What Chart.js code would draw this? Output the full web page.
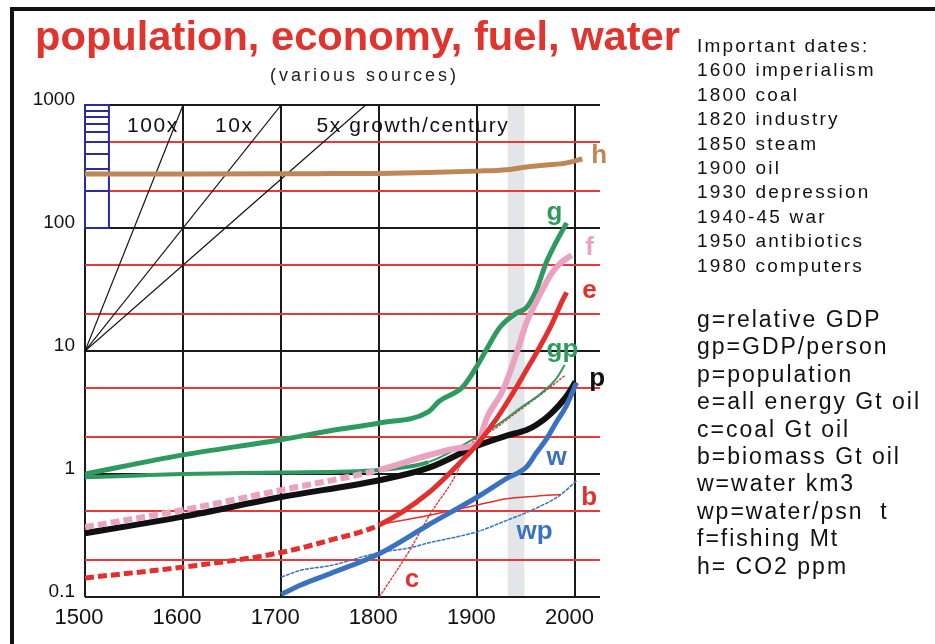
<!DOCTYPE html>
<html><head><meta charset="utf-8">
<script src="https://cdn.jsdelivr.net/npm/chart.js@4.4.1/dist/chart.umd.min.js"></script>
<style>
html,body{margin:0;padding:0;background:#fff;width:935px;height:644px;overflow:hidden;position:relative;font-family:"Liberation Sans",Arial,sans-serif;}
#c{position:absolute;left:0;top:0;}
.frameL{position:absolute;left:10px;top:7px;width:4px;height:637px;background:#111;}
.frameT{position:absolute;left:10px;top:7px;width:925px;height:4px;background:#111;}
#title{position:absolute;left:35px;top:14px;font:bold 40px "Liberation Sans Narrow","Liberation Sans",Arial,sans-serif;color:#e0352e;white-space:nowrap;transform-origin:0 0;}
#sub{position:absolute;left:270px;top:65px;font:18px "Liberation Sans",Arial,sans-serif;letter-spacing:3px;color:#222;white-space:nowrap;}
#dates{position:absolute;left:697px;top:34px;font:19px "Liberation Sans",Arial,sans-serif;letter-spacing:2.2px;line-height:24.4px;color:#111;white-space:nowrap;}
#keys{position:absolute;left:697px;top:306px;font:23px "Liberation Sans",Arial,sans-serif;letter-spacing:2px;line-height:27.4px;color:#111;white-space:nowrap;}
</style></head>
<body>
<canvas id="c" width="935" height="644"></canvas>
<div class="frameL"></div><div class="frameT"></div>
<div id="title">population, economy, fuel, water</div>
<div id="sub">(various sources)</div>
<div id="dates">Important dates:<br>1600 imperialism<br>1800 coal<br>1820 industry<br>1850 steam<br>1900 oil<br>1930 depression<br>1940-45 war<br>1950 antibiotics<br>1980 computers</div>
<div id="keys">g=relative GDP<br>gp=GDP/person<br>p=population<br>e=all energy Gt oil<br>c=coal Gt oil<br>b=biomass Gt oil<br>w=water km3<br>wp=water/psn&nbsp; t<br>f=fishing Mt<br>h= CO2 ppm</div>
<script>
// ---- axis ticks ----
const xTicks = [1500,1600,1700,1800,1900,2000];
const yTicks = [0.1,0.2,0.5,1,2,5,10,20,50,100,200,500,1000];

// ---- series (year, value) ----
const hYears   = [1500,1600,1700,1750,1800,1850,1900,1930,1950,1970,1990,2007];
const hValues  = [275,275,276,277,278,282,290,298,313,325,337,364];

const gYears   = [1500,1600,1700,1750,1800,1850,1861,1885,1899,1909,1923,1940,1950,1960,1970,1980,1991];
const gValues  = [1.0,1.43,1.9,2.25,2.6,3.2,3.9,5.1,7.4,10.2,15.6,20.4,22.5,31,52,76,110];

const gpYears  = [1500,1550,1600,1700,1800,1850,1895,1920,1943,1966,1980,1989];
const gpValues = [0.94,0.97,1.0,1.03,1.08,1.25,1.9,2.5,3.4,4.6,5.9,7.7];

const pYears   = [1500,1600,1700,1800,1850,1900,1930,1950,1960,1975,1990,2000];
const pValues  = [0.33,0.45,0.65,0.89,1.12,1.7,2.05,2.28,2.5,3.1,4.2,5.6];

const fYears   = [1500,1600,1700,1800,1850,1880,1900,1910,1926,1940,1950,1961,1975,1985,1996];
const fValues  = [0.37,0.51,0.74,1.08,1.42,1.62,1.78,2.9,4.8,9.6,17,26,42,52,60];

const eYears   = [1500,1600,1700,1750,1800,1850,1885,1900,1920,1938,1950,1960,1975,1987,1991];
const eValues  = [0.143,0.175,0.23,0.29,0.385,0.70,1.3,1.75,2.85,4.8,7.0,9.6,16,26,30];

const bYears   = [1800,1850,1900,1930,1960,1985];
const bValues  = [0.39,0.46,0.56,0.63,0.66,0.68];

const cYears   = [1800,1831,1851,1879,1889,1920,1943,1966,1989];
const cValues  = [0.1,0.24,0.46,1.02,1.57,2.4,3.3,4.5,6.3];

const wYears   = [1700,1720,1750,1800,1850,1900,1930,1950,1960,1970,1980,1990,2001];
const wValues  = [0.105,0.125,0.155,0.225,0.385,0.65,0.92,1.14,1.48,1.9,2.6,3.5,5.5];

const wpYears  = [1700,1720,1750,1800,1830,1850,1900,1930,1956,1984,2001];
const wpValues = [0.145,0.165,0.18,0.23,0.25,0.275,0.34,0.42,0.51,0.67,0.88];

// reference growth lines (from 10 in 1500)
const g100Years = [1500,1600]; const g100Values = [10,1000];
const g10Years  = [1500,1700]; const g10Values  = [10,1000];
const g5Years   = [1500,1700,1800]; const g5Values = [10,250,1250];

// war band and small log-ruler
const bandYears = [1931,1948];
const rulerYears = [1500,1524.4];
const rulerValues = [100,200,300,400,500,600,700,800,900,1000];

const pts = (xs, ys) => xs.map((x,i)=>({x, y: ys[i]}));
const isDecade = v => Math.abs(Math.log10(v) - Math.round(Math.log10(v))) < 1e-6;
const upTo1800Dash = c => (c.p1.parsed.x <= 1800 ? [9,4] : undefined);

const base = {pointRadius:0, fill:false, cubicInterpolationMode:'monotone'};
const datasets = [
  {...base, label:'e', data:pts(eYears,eValues), borderColor:'#e2302f', borderWidth:5, order:1, segment:{borderDash:upTo1800Dash}},
  {...base, label:'w', data:pts(wYears,wValues), borderColor:'#3a72c0', borderWidth:5, order:2},
  {...base, label:'f', data:pts(fYears,fValues), borderColor:'#e9a3c1', borderWidth:6, order:3, segment:{borderDash:upTo1800Dash}},
  {...base, label:'p', data:pts(pYears,pValues), borderColor:'#111111', borderWidth:6, order:4},
  {...base, label:'g', data:pts(gYears,gValues), borderColor:'#2f9a5f', borderWidth:5, order:5},
  {...base, label:'gp', data:pts(gpYears,gpValues), borderColor:'#2f9a5f', borderWidth:2, order:6, segment:{borderWidth:c=>(c.p0.parsed.x < 1850 ? 4 : 2)}},
  {...base, label:'c', data:pts(cYears,cValues), borderColor:'#e2302f', borderWidth:1.3, borderDash:[3,1], order:7},
  {...base, label:'b', data:pts(bYears,bValues), borderColor:'#e2302f', borderWidth:1.5, order:8},
  {...base, label:'wp', data:pts(wpYears,wpValues), borderColor:'#3a72c0', borderWidth:1.5, borderDash:[4,1], order:9},
  {...base, label:'h', data:pts(hYears,hValues), borderColor:'#bd8757', borderWidth:5, order:10},
  {...base, label:'100x', data:pts(g100Years,g100Values), borderColor:'#111', borderWidth:1.2, cubicInterpolationMode:'default', tension:0, order:11},
  {...base, label:'10x', data:pts(g10Years,g10Values), borderColor:'#111', borderWidth:1.2, cubicInterpolationMode:'default', tension:0, order:12},
  {...base, label:'5x', data:pts(g5Years,g5Values), borderColor:'#111', borderWidth:1.2, cubicInterpolationMode:'default', tension:0, order:13},
];

// series labels: text, anchor year, anchor value (baseline), colour
const labelTexts  = ['h','g','f','e','gp','p','w','b','wp','c'];
const labelYears  = [2016,1970.5,2010,2007,1970.5,2014,1970.5,2006,1940,1826];
const labelValues = [335,116,60,27,8.9,5.2,1.18,0.56,0.296,0.1205];
const labelColors = ['#bd8757','#2f9a5f','#e9a3c1','#e2302f','#2f9a5f','#111','#3a72c0','#e2302f','#3a72c0','#e2302f'];

const growthTexts = ['100x','10x','5x growth/century'];
const growthYears = [1542.8,1632.4,1736];
const growthValue = 603;

const bandPlugin = {
  id:'band',
  beforeDraw(chart){
    const {ctx, chartArea:a, scales:{x}} = chart;
    ctx.save();
    ctx.fillStyle = '#e3e5e8';
    const x0 = x.getPixelForValue(bandYears[0]), x1 = x.getPixelForValue(bandYears[1]);
    ctx.fillRect(x0, a.top, x1-x0, a.bottom-a.top);
    ctx.restore();
  }
};
const rulerPlugin = {
  id:'ruler',
  beforeDatasetsDraw(chart){
    const {ctx, scales:{x,y}} = chart;
    const x0 = x.getPixelForValue(rulerYears[0]), x1 = x.getPixelForValue(rulerYears[1]);
    const yb = y.getPixelForValue(rulerValues[0]), yt = y.getPixelForValue(rulerValues[rulerValues.length-1]);
    ctx.save();
    ctx.fillStyle = '#fff';
    ctx.fillRect(x0, yt, x1-x0, yb-yt);
    ctx.strokeStyle = '#2b2b9b';
    ctx.lineWidth = 2;
    ctx.strokeRect(x0, yt, x1-x0, yb-yt);
    ctx.beginPath();
    rulerValues.forEach(v=>{const py = Math.round(y.getPixelForValue(v)); ctx.moveTo(x0,py); ctx.lineTo(x1,py);});
    ctx.stroke();
    ctx.restore();
  }
};
const labelPlugin = {
  id:'labels',
  afterDatasetsDraw(chart){
    const {ctx, scales:{x,y}} = chart;
    ctx.save();
    ctx.textAlign = 'left';
    ctx.textBaseline = 'alphabetic';
    ctx.font = 'bold 26px "Liberation Sans", Arial, sans-serif';
    labelTexts.forEach((t,i)=>{
      ctx.fillStyle = labelColors[i];
      ctx.fillText(t, x.getPixelForValue(labelYears[i]), y.getPixelForValue(labelValues[i]));
    });
    ctx.font = '21px "Liberation Sans", Arial, sans-serif';
    ctx.fillStyle = '#111';
    try { ctx.letterSpacing = '1.6px'; } catch(e) {}
    growthTexts.forEach((t,i)=>{
      ctx.fillText(t, x.getPixelForValue(growthYears[i]), y.getPixelForValue(growthValue));
    });
    ctx.restore();
  }
};

new Chart(document.getElementById('c').getContext('2d'), {
  type:'line',
  data:{datasets},
  options:{
    responsive:false, animation:false,
    layout:{padding:{left:0,right:335,top:105,bottom:0}},
    plugins:{legend:{display:false}, tooltip:{enabled:false}},
    scales:{
      x:{type:'linear', min:1500, max:2025,
        afterFit(s){ s.height = 47; },
        afterBuildTicks(s){ s.ticks = xTicks.map(v=>({value:v})); },
        grid:{color:'#1a1a1a', lineWidth:2, drawTicks:false},
        border:{display:false},
        ticks:{padding:8, font:{size:22, family:'"Liberation Sans", Arial, sans-serif'}, color:'#111', labelOffset:-6, maxRotation:0, autoSkip:false, callback:v=>String(v)}
      },
      y:{type:'logarithmic', min:0.1, max:1000,
        afterFit(s){ s.width = 85; },
        afterBuildTicks(s){ s.ticks = yTicks.map(v=>({value:v})); },
        grid:{color:c=>(isDecade(c.tick.value) ? '#1a1a1a' : '#e8383a'), lineWidth:2, drawTicks:false},
        border:{display:false},
        ticks:{padding:10, font:{size:19, family:'"Liberation Sans", Arial, sans-serif'}, color:'#111', labelOffset:-5, autoSkip:false, callback:v=>(isDecade(v) ? String(v) : '')}
      }
    }
  },
  plugins:[bandPlugin, rulerPlugin, labelPlugin]
});

// fit title width to the reference
const t = document.getElementById('title');
const w = t.getBoundingClientRect().width;
t.style.transform = 'scaleX(' + (645 / w) + ')';
</script>
</body></html>
